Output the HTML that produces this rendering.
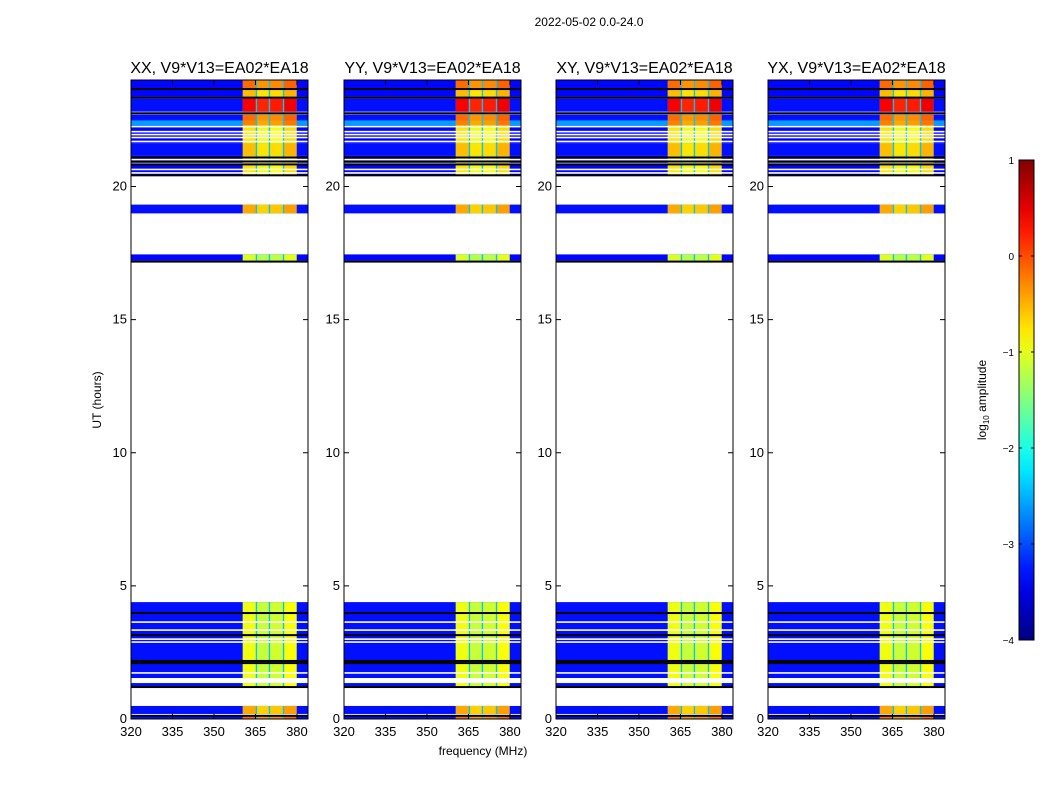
<!DOCTYPE html>
<html><head><meta charset="utf-8"><style>
body{margin:0;background:#fff;font-family:"Liberation Sans",sans-serif}
svg text{font-family:"Liberation Sans","DejaVu Sans",sans-serif}
</style></head><body>
<svg id="fig" width="1050" height="800" xmlns="http://www.w3.org/2000/svg">
<rect width="1050" height="800" fill="#fff"/>
<text x="589" y="26" font-size="12" text-anchor="middle">2022-05-02 0.0-24.0</text>
<text x="101" y="400" font-size="12" text-anchor="middle" transform="rotate(-90 101 400)">UT (hours)</text>
<text x="483" y="755" font-size="12" text-anchor="middle">frequency (MHz)</text>
</svg>
<script>
// ---- data ----
const panelTitles = ["XX, V9*V13=EA02*EA18","YY, V9*V13=EA02*EA18","XY, V9*V13=EA02*EA18","YX, V9*V13=EA02*EA18"];
// rows: [startHour, endHour, background log-amp, band log-amp]
const rowStart = [23.68,23.38,22.81,22.48,22.29,21.61,21.16,20.41,18.99,17.22,1.20,0.19,0.00];
const rowEnd   = [24.00,23.64,23.30,22.70,22.48,22.29,21.61,21.16,19.32,17.45,4.39,0.49,0.15];
const rowBg    = [-3.35,-3.35,-3.3,-3.3,-2.6,-3.35,-3.3,-3.35,-3.3,-3.35,-3.3,-3.3,-3.3];
const rowBand  = [-0.2,-0.6,0.35,-0.2,-0.3,-0.8,-0.6,-0.8,-0.5,-1.1,-1.0,-0.5,-0.2];
// frequency bands (MHz) and offsets
const bandLo = [360.4,365.6,370.3,375.4];
const bandHi = [365.1,369.8,374.9,379.9];
const bandOff = [0.05,-0.15,-0.1,0.1];
const gapVal = -2.4;
// flagged lines (hours)
const blackLines = [23.66,23.34,22.75,21.09,20.94,20.83,20.42,17.18,3.98,3.15,2.18,2.10,1.20,0.12];
const whiteLines = [22.25,22.06,21.95,21.84,21.69,21.01,20.86,20.64,20.51,3.64,3.34,3.00,2.89,1.73];
const whiteBands = [[1.35,1.54]];
const yTicks = [0,5,10,15,20];
const xTicks = [320,335,350,365,380];
const cbTicks = [1,0,-1,-2,-3,-4];

// ---- layout ----
const svg = document.getElementById('fig');
const NS = "http://www.w3.org/2000/svg";
const panelX = [131,344,556,768], PW = 177, PY0 = 80, PY1 = 719;
const fMin = 320, fMax = 384, hMin = 0, hMax = 24;
function jet(v){
  let t = Math.max(0,Math.min(1,(v+4)/5));
  const r = Math.max(0,Math.min(1,1.5-Math.abs(4*t-3)));
  const g = Math.max(0,Math.min(1,1.5-Math.abs(4*t-2)));
  const b = Math.max(0,Math.min(1,1.5-Math.abs(4*t-1)));
  return `rgb(${Math.round(r*255)},${Math.round(g*255)},${Math.round(b*255)})`;
}
function mk(tag, attrs, parent){
  const e = document.createElementNS(NS, tag);
  for (const k in attrs) e.setAttribute(k, attrs[k]);
  (parent||svg).appendChild(e);
  return e;
}
const yS = h => PY1 - (h-hMin)/(hMax-hMin)*(PY1-PY0);

panelTitles.forEach((title, p) => {
  const x0 = panelX[p];
  const xS = f => x0 + (f-fMin)/(fMax-fMin)*PW;
  const g = mk('g', {});
  
  
  for (let i=0;i<rowStart.length;i++){
    const ya = yS(rowEnd[i]), yb = yS(rowStart[i]);
    const bg = mk('rect',{x:x0,y:ya,width:PW,height:yb-ya,fill:jet(rowBg[i])},g);
    
    
    const gp = mk('rect',{x:xS(bandLo[0]),y:ya,width:xS(bandHi[bandHi.length-1])-xS(bandLo[0]),height:yb-ya,fill:jet(gapVal)},g);
    
    
    for (let b=0;b<bandLo.length;b++){
      const c = mk('rect',{x:xS(bandLo[b]),y:ya,width:xS(bandHi[b])-xS(bandLo[b]),height:yb-ya,fill:jet(rowBand[i]+bandOff[b])},g);
      
      
    }
  }
  whiteLines.forEach(h=>{
    const l = mk('rect',{x:x0,y:yS(h)-0.8,width:PW,height:1.6,fill:'#fff'},g);
    
    
  });
  whiteBands.forEach(w=>{
    const l = mk('rect',{x:x0,y:yS(w[1]),width:PW,height:yS(w[0])-yS(w[1]),fill:'#fff'},g);
    
    
  });
  blackLines.forEach(h=>{
    const l = mk('rect',{x:x0,y:yS(h)-1,width:PW,height:2,fill:'#000'},g);
    
    
  });
  const fr = mk('rect',{x:x0,y:PY0,width:PW,height:PY1-PY0,fill:'none',stroke:'#000','stroke-width':1},g);
  
  
  const t = mk('text',{x:x0+PW/2,y:73,'font-size':16,'text-anchor':'middle'},g);
  t.textContent = title;
  
  
  yTicks.forEach(v=>{
    const y = yS(v);
    mk('line',{x1:x0,x2:x0+5,y1:y,y2:y,stroke:'#000'},g);
    mk('line',{x1:x0+PW-5,x2:x0+PW,y1:y,y2:y,stroke:'#000'},g);
    const tl = mk('text',{x:x0-4,y:y+4,'font-size':13,'text-anchor':'end'},g);
    tl.textContent = v;
    
    
  });
  xTicks.forEach(v=>{
    const x = xS(v);
    mk('line',{x1:x,x2:x,y1:PY1,y2:PY1-5,stroke:'#000'},g);
    mk('line',{x1:x,x2:x,y1:PY0,y2:PY0+5,stroke:'#000'},g);
    const tl = mk('text',{x:x,y:PY1+17,'font-size':13,'text-anchor':'middle'},g);
    tl.textContent = v;
    
    
  });
});

// colorbar
const cbX = 1019, cbW = 15, cbY0 = 160, cbY1 = 640;
const defs = mk('defs',{});
const grad = mk('linearGradient',{id:'jetg',x1:0,y1:1,x2:0,y2:0},defs);
for (let i=0;i<=20;i++){
  mk('stop',{offset:(i/20),'stop-color':jet(-4+5*i/20)},grad);
}
const cb = mk('rect',{x:cbX,y:cbY0,width:cbW,height:cbY1-cbY0,fill:'url(#jetg)',stroke:'#000'});


const cbS = v => cbY1 - (v+4)/5*(cbY1-cbY0);
cbTicks.forEach(v=>{
  const y = cbS(v);
  mk('line',{x1:cbX,x2:cbX+3,y1:y,y2:y,stroke:'#000'});
  mk('line',{x1:cbX+cbW-3,x2:cbX+cbW,y1:y,y2:y,stroke:'#000'});
  const tl = mk('text',{x:cbX-5,y:y+4,'font-size':10,'text-anchor':'end'});
  tl.textContent = v<0 ? '\u2212'+(-v) : v;
  
  
});
const cl = mk('text',{x:986,y:400,'font-size':12,'text-anchor':'middle',transform:'rotate(-90 986 400)'});
cl.innerHTML = 'log<tspan font-size="8" dy="3">10</tspan><tspan dy="-3"> amplitude</tspan>';


</script>
</body></html>
